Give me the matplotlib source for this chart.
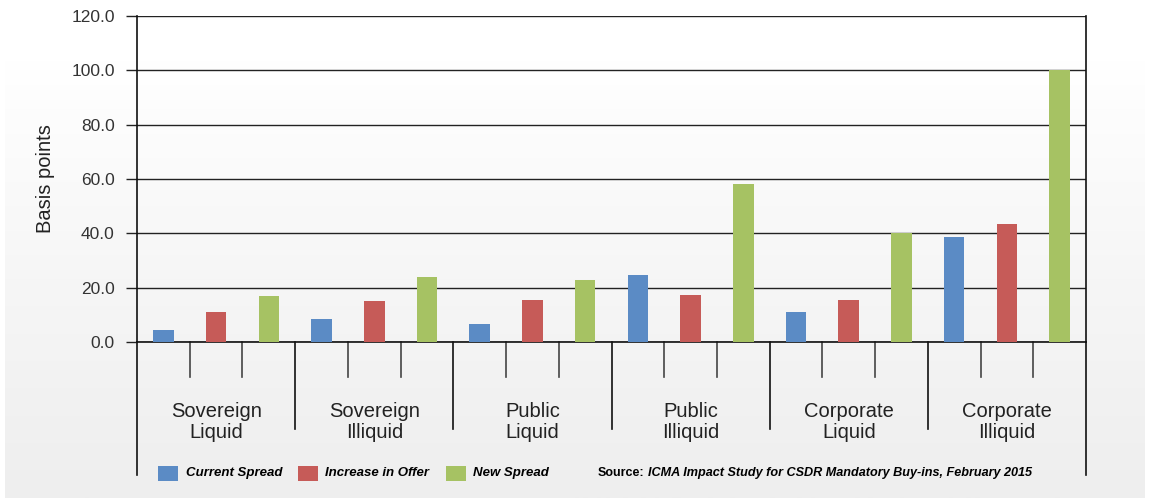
import numpy as np
import matplotlib
matplotlib.use("Agg")
from matplotlib import pyplot as plt
from matplotlib.patches import Rectangle

plt.rcParams['font.family'] = ['Liberation Sans', 'DejaVu Sans']

categories = ['Sovereign\nLiquid', 'Sovereign\nIlliquid', 'Public\nLiquid',
              'Public\nIlliquid', 'Corporate\nLiquid', 'Corporate\nIlliquid']
series_names = ['Current Spread', 'Increase in Offer', 'New Spread']
current_spread = [4.4, 8.3, 6.6, 24.5, 11.0, 38.5]
increase_in_offer = [11.0, 15.0, 15.4, 17.2, 15.3, 43.4]
new_spread = [16.9, 23.9, 22.8, 58.2, 40.0, 100.0]
yticks = [0, 20, 40, 60, 80, 100, 120]
source_label = 'Source:'
source_text = 'ICMA Impact Study for CSDR Mandatory Buy-ins, February 2015'

colors = ['#5b8bc5', '#c65b58', '#a6c263']
W, H = 1152, 498

fig = plt.figure(figsize=(W / 100, H / 100), dpi=100)
fig.patch.set_facecolor('white')

# soft gradient background panel
bg = fig.add_axes([0, 0, 1, 1], zorder=-5)
bg.set_xlim(0, W)
bg.set_ylim(0, H)
bg.axis('off')
grad = np.linspace(0, 1, 256).reshape(-1, 1)
cmap = matplotlib.colors.LinearSegmentedColormap.from_list(
    'g', ['#eeeeee', '#f6f6f6', '#ffffff'])
bg.imshow(grad, cmap=cmap, aspect='auto', extent=[5, 1145, 0, H - 60], origin='lower')

ax = fig.add_axes([137 / W, 1 - 342 / H, (1086 - 137) / W, (342 - 16) / H])
ax.set_facecolor('none')

nser = 3
x = np.arange(len(categories))
data = [current_spread, increase_in_offer, new_spread]
for s in range(nser):
    pos = x * nser + s + 0.5
    ax.bar(pos, data[s], width=0.39, color=colors[s], linewidth=0, zorder=3)

ax.set_xlim(0, len(categories) * nser)
ax.set_ylim(0, 120)
ax.set_yticks(yticks)
ax.set_yticklabels(['%.1f' % v for v in yticks], fontsize=12.5, color='#333333')
ax.yaxis.grid(True, color='#222222', linewidth=1)
ax.set_axisbelow(True)
ax.tick_params(axis='y', length=8, width=1, color='#222222', pad=8)
ax.set_xticks([])
for sp in ['left', 'right', 'bottom']:
    ax.spines[sp].set_color('#111111')
    ax.spines[sp].set_linewidth(1.2)
ax.spines['top'].set_visible(False)
ax.set_ylabel('Basis points', fontsize=14.5, color='#222222', labelpad=12)

# table-like separators under the axis
ppu = (342 - 16) / 120.0
for i in range(len(categories) * nser + 1):
    if i == 0 or i == len(categories) * nser:
        depth = (475 - 342) / ppu
        c = '#111111'
    elif i % nser == 0:
        depth = (429 - 342) / ppu
        c = '#111111'
    else:
        depth = (377 - 342) / ppu
        c = '#444444'
    ax.plot([i, i], [0, -depth], color=c, linewidth=1.2, clip_on=False)

for i, cat in enumerate(categories):
    ax.text(i * nser + 1.5, -(422 - 342) / ppu, cat, ha='center', va='center',
            fontsize=14.5, color='#222222', linespacing=1.08, clip_on=False)

# legend
leg_x = [158, 298, 446]
txt_x = [186, 325, 473]
for s in range(nser):
    fig.patches.append(Rectangle((leg_x[s] / W, 1 - 481 / H), 20 / W, 15 / H,
                                 transform=fig.transFigure, facecolor=colors[s],
                                 edgecolor='none'))
    fig.text(txt_x[s] / W, 1 - 473 / H, series_names[s], fontsize=9.5,
             fontweight='bold', fontstyle='italic', va='center', ha='left')

fig.text(598 / W, 1 - 473 / H, source_label, fontsize=9.0, fontweight='bold',
         va='center', ha='left')
fig.text(648 / W, 1 - 473 / H, source_text, fontsize=9.1, fontweight='bold',
         fontstyle='italic', va='center', ha='left')

fig.savefig('out.png', dpi=100)
